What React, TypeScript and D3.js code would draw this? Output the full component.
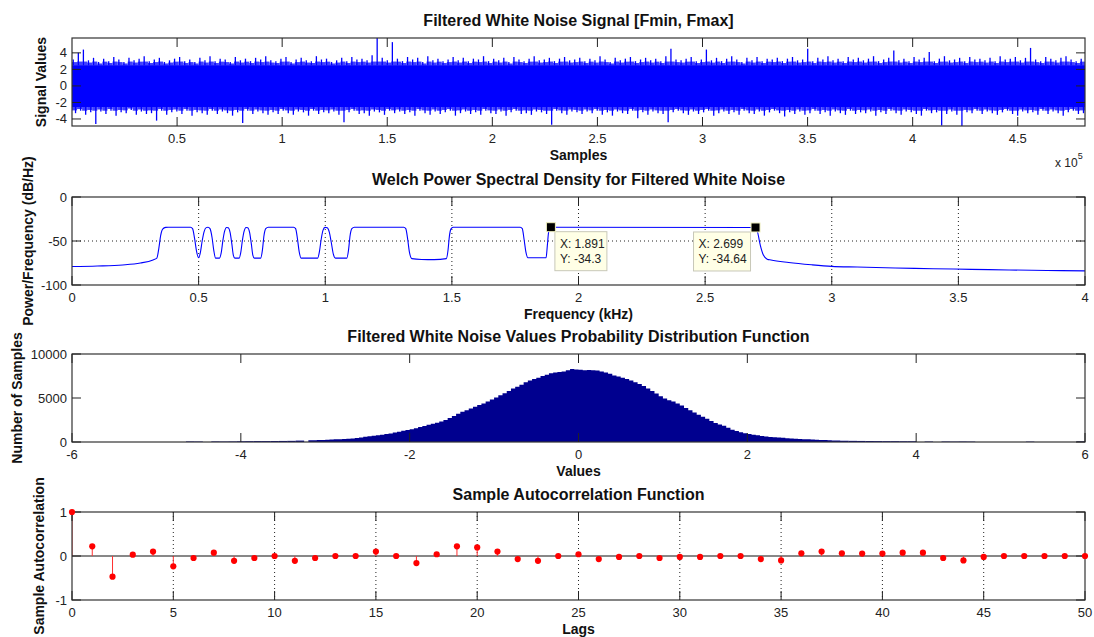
import React from 'react'
import * as d3 from 'd3'

const W = 1094
const H = 637
const FONT = '"Liberation Sans", Arial, Helvetica, sans-serif'

// ---------- panel 1: filtered white noise, peak envelope per block of samples
const sampleCount = 482000
const sigCore = [-2.55, 2.5]
const sigUpper = [
  3.2, 4.0, 4.4, 3.1, 3.4, 2.9, 3.3, 3.0, 3.5, 3.2, 2.9, 3.4, 3.1, 3.3, 3.6, 3.0, 3.2, 3.4, 2.9, 3.1,
  3.3, 3.5, 3.0, 3.2, 2.9, 3.4, 3.1, 3.6, 3.0, 3.3, 3.2, 2.9, 3.5, 3.1, 3.3, 3.0, 3.4, 3.2, 3.6, 3.1,
  3.0, 3.3, 3.5, 2.9, 3.2, 3.4, 3.1, 3.0, 3.6, 3.2, 3.3, 2.9, 3.1, 3.4, 3.0, 3.5, 3.2, 3.3, 3.1, 3.7,
  5.8, 3.4, 3.1, 5.3, 3.3, 3.0, 3.5, 3.2, 3.4, 2.9, 3.6, 3.1, 3.3, 3.0, 3.2, 3.5, 3.1, 3.4, 3.0, 3.3,
  3.2, 3.6, 3.0, 3.3, 3.1, 3.4, 2.9, 3.5, 3.2, 3.0, 3.3, 3.6, 3.1, 3.2, 3.4, 3.0, 3.3, 3.5, 3.1, 3.2,
  3.4, 3.0, 3.3, 3.1, 3.6, 3.2, 2.9, 3.4, 3.1, 3.3, 3.5, 3.0, 3.2, 3.4, 3.1, 3.3, 3.0, 3.6, 4.5, 3.2,
  3.1, 3.3, 3.5, 3.0, 3.2, 4.4, 3.1, 3.4, 3.0, 3.3, 3.6, 3.2, 2.9, 3.4, 3.1, 3.5, 3.0, 3.3, 3.2, 3.4,
  3.0, 3.3, 3.5, 3.1, 3.2, 4.5, 3.0, 3.4, 3.2, 3.6, 3.1, 3.3, 3.0, 3.5, 3.2, 3.4, 3.1, 3.3, 3.6, 3.0,
  3.2, 3.4, 4.3, 3.1, 3.3, 3.0, 3.5, 3.2, 3.4, 4.1, 3.0, 3.3, 3.6, 3.1, 3.2, 3.4, 3.0, 3.5, 3.2, 3.3,
  3.1, 3.4, 3.0, 3.6, 3.2, 3.3, 3.5, 3.1, 3.4, 4.6, 3.2, 3.0, 3.5, 3.3, 3.1, 3.4, 3.6, 3.2, 3.0, 3.3,
]
const sigLower = [
  -3.3, -3.0, -3.5, -3.2, -4.6, -3.1, -3.4, -3.0, -3.6, -3.2, -3.3, -2.9, -3.5, -3.1, -3.4, -3.3, -4.2, -3.0, -3.5, -3.2,
  -3.1, -3.4, -3.0, -3.6, -3.2, -3.3, -3.5, -3.0, -3.4, -3.1, -3.3, -3.6, -3.2, -4.5, -3.0, -3.4, -3.1, -3.3, -3.5, -3.2,
  -3.4, -3.0, -3.3, -3.5, -3.1, -3.2, -3.6, -3.0, -3.4, -3.2, -3.3, -3.1, -3.5, -4.4, -3.2, -3.0, -3.4, -3.3, -3.6, -3.1,
  -3.2, -3.5, -3.0, -3.3, -3.1, -3.4, -3.2, -3.6, -3.0, -3.3, -3.5, -3.1, -3.4, -3.2, -3.0, -3.6, -3.3, -3.1, -3.4, -3.2,
  -3.5, -3.0, -3.3, -3.4, -3.1, -3.6, -3.2, -3.0, -3.4, -3.3, -3.5, -3.1, -3.2, -3.4, -4.7, -3.0, -3.3, -3.5, -3.1, -3.2,
  -3.4, -3.1, -3.3, -3.0, -3.5, -3.2, -3.6, -3.1, -3.3, -3.4, -3.0, -3.9, -3.2, -3.5, -3.1, -3.3, -3.4, -4.4, -3.2, -3.0,
  -3.3, -3.5, -3.1, -3.4, -3.2, -3.0, -3.6, -3.3, -3.1, -3.4, -3.2, -3.5, -3.0, -3.3, -3.4, -3.1, -3.6, -3.2, -3.0, -3.3,
  -3.7, -3.2, -3.4, -3.1, -3.5, -3.3, -3.0, -3.4, -3.2, -3.6, -3.1, -3.3, -3.5, -3.0, -3.4, -3.2, -3.3, -3.1, -3.6, -3.2,
  -3.4, -3.0, -3.3, -3.5, -3.1, -3.2, -3.4, -3.6, -3.0, -3.3, -3.2, -4.8, -3.4, -3.1, -3.5, -4.85, -3.2, -3.3, -3.0, -3.4,
  -3.1, -3.3, -3.5, -3.2, -3.0, -3.4, -3.6, -3.1, -3.3, -3.2, -3.5, -3.0, -3.4, -3.1, -3.3, -3.6, -3.2, -3.0, -3.4, -3.3,
]
const sigYDomain = [-4.85, 5.8]

// ---------- panel 2: Welch PSD (kHz, dB/Hz)
const psdFreq = [
  0, 0.1, 0.2, 0.27, 0.32, 0.335,
  0.343, 0.35, 0.358, 0.37, 0.38, 0.468, 0.476, 0.484, 0.492, 0.5,
  0.507, 0.514, 0.522, 0.53, 0.537, 0.545, 0.553, 0.56, 0.567, 0.582,
  0.59, 0.596, 0.603, 0.61, 0.617, 0.624, 0.631, 0.637, 0.643, 0.66,
  0.667, 0.673, 0.68, 0.687, 0.694, 0.701, 0.708, 0.714, 0.72, 0.745,
  0.752, 0.758, 0.765, 0.775, 0.875, 0.883, 0.89, 0.897, 0.905, 0.97,
  0.977, 0.984, 0.991, 0.999, 1.008, 1.016, 1.024, 1.032, 1.04, 1.085,
  1.092, 1.098, 1.105, 1.115, 1.31, 1.318, 1.325, 1.332, 1.342, 1.38, 1.43, 1.478,
  1.485, 1.49, 1.496, 1.505, 1.77, 1.778, 1.785, 1.792, 1.8, 1.872,
  1.877, 1.882, 1.891, 2.699,
  2.707, 2.718, 2.73, 2.745, 2.76, 2.83, 2.92, 3.0, 3.1, 3.25, 3.4, 3.55, 3.7, 3.85, 4.0,
]
const psdDb = [
  -79, -78.4, -77.2, -75, -71.5, -69.5,
  -58, -44, -36.5, -34.5, -34.3, -34.3, -36, -47, -62, -69,
  -63, -50, -39, -34.8, -34.3, -36, -46, -61, -69.5, -69.5,
  -62, -49, -38.5, -34.6, -35, -40, -53, -66, -69.5, -69.5,
  -62, -49, -38.5, -34.6, -35, -40, -53, -66, -69.5, -69.5,
  -60, -44, -36, -34.3, -34.3, -36, -47, -62, -69.5, -69.5,
  -62, -48, -38, -34.5, -35, -40, -52, -65, -69.5, -69.5,
  -60, -44, -36, -34.3, -34.3, -36, -47, -62, -70, -71, -71.2, -70,
  -60, -45, -36.5, -34.3, -34.3, -36, -48, -62, -69, -69,
  -55, -40, -34.3, -34.64,
  -40, -55, -66, -70.6, -71.6, -74.4, -77, -78.8, -79.6, -80.7, -81.5, -82.2, -82.9, -83.5, -84,
]
const tipFreq = [1.891, 2.699]
const tipDb = [-34.3, -34.64]

// ---------- panel 3: histogram of values (bin width 0.05 from -3.2)
const histStart = -3.2
const histWidth = 0.05
const histCounts = [
  190, 200, 230, 240, 260, 270, 300, 310, 340, 380, 400, 450, 500, 590, 640, 700,
  760, 830, 900, 980, 1080, 1170, 1270, 1350, 1460, 1560, 1700, 1820, 1950, 2060, 2200, 2340,
  2500, 2720, 2950, 3200, 3450, 3600, 3800, 4000, 4200, 4380, 4600, 4820, 5050, 5300, 5550, 5800,
  6070, 6280, 6500, 6780, 7000, 7150, 7300, 7500, 7640, 7800, 7900, 7950, 8000, 8150, 8300, 8250,
  8200, 8150, 8170, 8150, 8130, 8000, 7900, 7750, 7570, 7450, 7300, 7150, 7000, 6800, 6600, 6350,
  6070, 5800, 5500, 5200, 4940, 4750, 4600, 4380, 4150, 3850, 3600, 3350, 3100, 2880, 2650, 2400,
  2150, 1980, 1850, 1620, 1400, 1250, 1100, 990, 900, 820, 760, 690, 620, 570, 540, 500,
  470, 440, 410, 380, 350, 320, 300, 280, 260, 240, 220, 200, 180, 170, 150, 140,
]
// sparse tails (bin width 0.1)
const tailCenters = [
  -4.6, -4.5, -4.3, -4.2, -4.1, -4.0, -3.9, -3.8, -3.7, -3.6, -3.5, -3.4, -3.3,
  3.25, 3.35, 3.45, 3.55, 3.65, 3.75, 3.85, 3.95, 4.15, 4.35, 4.45, 4.55, 4.65, 5.35, 5.95,
]
const tailCounts = [
  60, 50, 60, 50, 60, 80, 90, 100, 100, 110, 120, 130, 160,
  130, 120, 110, 100, 90, 90, 80, 80, 50, 50, 40, 50, 40, 40, 60,
]

// ---------- panel 4: sample autocorrelation
const acfValues = [
  1, 0.22, -0.47, 0.03, 0.1, -0.235, -0.045, 0.075, -0.11, -0.045,
  0, -0.11, -0.045, 0, 0, 0.1, 0, -0.16, 0.04, 0.22,
  0.195, 0.1, -0.07, -0.11, 0, 0.04, -0.07, -0.02, 0, -0.045,
  -0.02, -0.02, 0, 0, -0.07, -0.1, 0.06, 0.1, 0.06, 0.055,
  0.055, 0.075, 0.075, -0.045, -0.1, -0.02, 0, 0, 0, 0, 0,
]

const left = 72
const right = 1085
const panelTops = [38, 197, 354, 512]
const panelH = 88
const TICK = 9

function Frame({ id, top, x, y, xTicks, yTicks, xFmt, yFmt, xGrid, yGrid, title, xLabel, yLabel, yLabelX, children, after }) {
  const bottom = top + panelH
  return (
    <g>
      <defs>
        <clipPath id={id}>
          <rect x={left} y={top} width={right - left} height={panelH} />
        </clipPath>
      </defs>
      {/* grid */}
      {xGrid && xTicks.filter(t => x(t) > left + 1 && x(t) < right - 1).map(t =>
        <line key={'gx' + t} x1={x(t)} x2={x(t)} y1={top} y2={bottom} stroke="#222" strokeDasharray="1,3" strokeWidth={1} />)}
      {yGrid && yTicks.filter(t => y(t) > top + 1 && y(t) < bottom - 1).map(t =>
        <line key={'gy' + t} x1={left} x2={right} y1={y(t)} y2={y(t)} stroke="#222" strokeDasharray="1,3" strokeWidth={1} />)}
      <g clipPath={`url(#${id})`}>{children}</g>
      {/* box + inward ticks */}
      <rect x={left} y={top} width={right - left} height={panelH} fill="none" stroke="#333" strokeWidth={1.2} />
      {xTicks.map(t => (
        <g key={'tx' + t}>
          <line x1={x(t)} x2={x(t)} y1={bottom} y2={bottom - TICK} stroke="#222" />
          <line x1={x(t)} x2={x(t)} y1={top} y2={top + TICK} stroke="#222" />
          <text x={x(t)} y={bottom + 17} textAnchor="middle" fontSize={13} fill="#222">{xFmt(t)}</text>
        </g>
      ))}
      {yTicks.map(t => (
        <g key={'ty' + t}>
          <line x1={left} x2={left + TICK} y1={y(t)} y2={y(t)} stroke="#222" />
          <line x1={right} x2={right - TICK} y1={y(t)} y2={y(t)} stroke="#222" />
          <text x={left - 5} y={y(t) + 4.5} textAnchor="end" fontSize={13} fill="#222">{yFmt(t)}</text>
        </g>
      ))}
      {after}
      <text x={(left + right) / 2} y={top - 12} textAnchor="middle" fontSize={16} fontWeight="bold" fill="#111">{title}</text>
      <text x={(left + right) / 2} y={bottom + 34} textAnchor="middle" fontSize={14} fontWeight="bold" fill="#111">{xLabel}</text>
      <text transform={`translate(${yLabelX},${top + panelH / 2}) rotate(-90)`} textAnchor="middle" fontSize={14} fontWeight="bold" fill="#111">{yLabel}</text>
    </g>
  )
}

function SignalPanel() {
  const top = panelTops[0]
  const x = d3.scaleLinear().domain([0, sampleCount]).range([left, right])
  const y = d3.scaleLinear().domain(sigYDomain).range([top + panelH, top])
  const n = sigUpper.length
  const block = sampleCount / n
  const bw = x(block) - x(0)
  const [lo, hi] = sigCore
  // lighter "shoulder" under each peak so the fringe reads as dense noise
  const shoulder = (v, c) => c + Math.sign(v - c) * Math.min(Math.abs(v - c) * 0.55, 0.45)
  return (
    <Frame id="clip1" top={top} x={x} y={y}
      xTicks={d3.range(50000, 450001, 50000)} yTicks={[-4, -2, 0, 2, 4]}
      xFmt={t => String(+(t / 1e5).toFixed(1))} yFmt={t => String(t)}
      title="Filtered White Noise Signal [Fmin, Fmax]" xLabel="Samples" yLabel="Signal Values" yLabelX={46}
      after={
        <text x={1055} y={167} fontSize={12} fill="#222">x 10<tspan dy={-8} fontSize={9}>5</tspan></text>
      }>
      <rect x={left} width={right - left} y={y(hi)} height={y(lo) - y(hi)} fill="#0000ff" />
      {sigUpper.map((u, i) => {
        const cx = x((i + 0.5) * block)
        const l = sigLower[i]
        const su = shoulder(u, hi)
        const sl = shoulder(l, lo)
        return (
          <g key={i}>
            <rect x={cx - bw / 2} width={bw} y={y(su)} height={y(hi) - y(su) + 0.5} fill="#0000ff" opacity={0.75} />
            <rect x={cx - bw / 2} width={bw} y={y(lo) - 0.5} height={y(sl) - y(lo) + 0.5} fill="#0000ff" opacity={0.75} />
            <line x1={cx - bw * 0.25} x2={cx - bw * 0.25} y1={y(hi)} y2={y(u)} stroke="#0000ff" strokeWidth={1.3} />
            <line x1={cx + bw * 0.2} x2={cx + bw * 0.2} y1={y(lo)} y2={y(l)} stroke="#0000ff" strokeWidth={1.3} />
          </g>
        )
      })}
    </Frame>
  )
}

function PsdPanel() {
  const top = panelTops[1]
  const x = d3.scaleLinear().domain([0, 4]).range([left, right])
  const y = d3.scaleLinear().domain([-100, 0]).range([top + panelH, top])
  const pts = psdFreq.map((f, i) => [f, psdDb[i]])
  const path = d3.line().x(d => x(d[0])).y(d => y(d[1])).curve(d3.curveMonotoneX)(pts)
  const tips = tipFreq.map((f, i) => ({ f, db: tipDb[i], px: x(f), py: y(tipDb[i]) }))
  return (
    <Frame id="clip2" top={top} x={x} y={y}
      xTicks={d3.range(0, 4.01, 0.5)} yTicks={[-100, -50, 0]}
      xFmt={t => String(+t.toFixed(1))} yFmt={t => String(t)} xGrid yGrid
      title="Welch Power Spectral Density for Filtered White Noise" xLabel="Frequency (kHz)"
      yLabel="Power/Frequency (dB/Hz)" yLabelX={33}
      after={
        <g>
          {tips.map((t, i) => {
            const bw = i === 0 ? 52 : 57
            const bx = i === 0 ? t.px + 4 : t.px - 5 - bw
            const by = t.py + 4.5
            return (
              <g key={i}>
                <rect x={bx} y={by} width={bw} height={39} fill="#ffffe6" stroke="#c8c8b8" />
                <text x={bx + 5} y={by + 16} fontSize={12} fill="#222">X: {t.f}</text>
                <text x={bx + 5} y={by + 31} fontSize={12} fill="#222">Y: {t.db}</text>
                <rect x={t.px - 4.5} y={t.py - 4.5} width={9} height={9} fill="#000" stroke="#f0f0c0" strokeWidth={1} />
              </g>
            )
          })}
        </g>
      }>
      <path d={path} fill="none" stroke="#0000ff" strokeWidth={1.1} />
    </Frame>
  )
}

function HistPanel() {
  const top = panelTops[2]
  const x = d3.scaleLinear().domain([-6, 6]).range([left, right])
  const y = d3.scaleLinear().domain([0, 10000]).range([top + panelH, top])
  // main body as one stepped outline (no seams between bins)
  const steps = histCounts.map((c, i) => [histStart + i * histWidth, c])
  steps.push([histStart + histCounts.length * histWidth, 0])
  const body = d3.area().x(d => x(d[0])).y0(y(0)).y1(d => y(d[1])).curve(d3.curveStepAfter)(steps)
  return (
    <Frame id="clip3" top={top} x={x} y={y}
      xTicks={[-6, -4, -2, 0, 2, 4, 6]} yTicks={[0, 5000, 10000]}
      xFmt={t => String(t)} yFmt={t => String(t)}
      title="Filtered White Noise Values Probability Distribution Function" xLabel="Values"
      yLabel="Number of Samples" yLabelX={22}>
      <path d={body} fill="#00008f" />
      {tailCenters.map((m, i) =>
        <rect key={i} x={x(m - 0.05)} width={x(m + 0.05) - x(m - 0.05)} y={y(tailCounts[i])}
          height={y(0) - y(tailCounts[i])} fill="#00008f" />)}
    </Frame>
  )
}

function AcfPanel() {
  const top = panelTops[3]
  const x = d3.scaleLinear().domain([0, 50]).range([left, right])
  const y = d3.scaleLinear().domain([-1, 1]).range([top + panelH, top])
  return (
    <Frame id="clip4" top={top} x={x} y={y}
      xTicks={d3.range(0, 51, 5)} yTicks={[-1, 0, 1]}
      xFmt={t => String(t)} yFmt={t => String(t)} xGrid
      title="Sample Autocorrelation Function" xLabel="Lags" yLabel="Sample Autocorrelation" yLabelX={44}
      after={
        <g>
          {acfValues.map((v, i) =>
            <circle key={i} cx={x(i)} cy={y(v)} r={3.1} fill="#ff0000" />)}
        </g>
      }>
      <line x1={x(0)} x2={x(50)} y1={y(0)} y2={y(0)} stroke="#111" strokeWidth={1} />
      {acfValues.map((v, i) =>
        <line key={i} x1={x(i)} x2={x(i)} y1={y(0)} y2={y(v)} stroke="#ff3030" strokeWidth={1} />)}
    </Frame>
  )
}

export default function App() {
  return (
    <svg width={W} height={H} viewBox={`0 0 ${W} ${H}`}
      style={{ position: 'absolute', left: 0, top: 0, fontFamily: FONT, background: '#fff' }}>
      <rect width={W} height={H} fill="#fff" />
      <SignalPanel />
      <PsdPanel />
      <HistPanel />
      <AcfPanel />
    </svg>
  )
}
